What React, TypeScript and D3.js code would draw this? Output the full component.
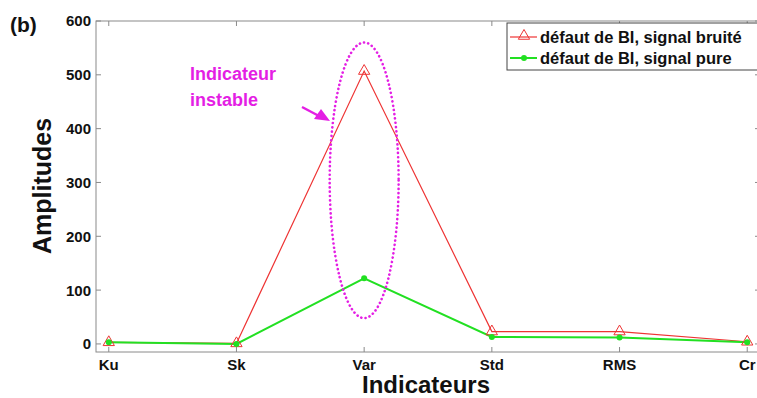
import React from "react";
import * as d3 from "d3";

const categories = ["Ku", "Sk", "Var", "Std", "RMS", "Cr"];
const noisySignal = [3, 1, 507, 23, 23, 4];
const pureSignal = [3, 0, 122, 13, 12, 3];
const yTicks = [0, 100, 200, 300, 400, 500, 600];
const legendLabels = ["défaut de BI, signal bruité", "défaut de BI, signal pure"];
// dotted ellipse around the Var indicator (centre value and half height in data units)
const ellipseCenter = { index: 2, value: 304 };
const ellipseHalf = { dx: 0.27, dy: 256 };

const W = 757;
const H = 398;
const left = 96;
const right = 760;
const top = 21;
const bottom = 352;

const FONT = "'Liberation Sans', Arial, sans-serif";
const NARROW = "'Liberation Sans Narrow', 'Liberation Sans', Arial, sans-serif";
const MAGENTA = "#e41ee4";
const RED = "#ee3333";
const GREEN = "#22e022";

export default function App() {
  const x = d3.scaleLinear().domain([-0.1, 5.1]).range([left, right]);
  const y = d3.scaleLinear().domain([-15, 600]).range([bottom, top]);

  const line = d3
    .line<number>()
    .x((_, i) => x(i))
    .y((d) => y(d));

  const tri = d3.symbol().type(d3.symbolTriangle).size(55)();

  const ex = x(ellipseCenter.index);
  const ey = y(ellipseCenter.value);
  const erx = x(ellipseCenter.index + ellipseHalf.dx) - ex;
  const ery = y(ellipseCenter.value - ellipseHalf.dy) - ey;

  const axisColor = "#8a8a8a";
  const tickLen = 5;

  return (
    <svg
      width={W}
      height={H}
      style={{ position: "absolute", left: 0, top: 0, background: "#fff" }}
    >
      <rect x={0} y={0} width={W} height={H} fill="#fff" />
      {/* frame */}
      <rect
        x={left}
        y={top}
        width={right - left}
        height={bottom - top}
        fill="none"
        stroke={axisColor}
        strokeWidth={1}
      />
      {/* y ticks */}
      {yTicks.map((t) => (
        <g key={"y" + t}>
          <line x1={left} x2={left + tickLen} y1={y(t)} y2={y(t)} stroke={axisColor} />
          <line x1={right} x2={right - tickLen} y1={y(t)} y2={y(t)} stroke={axisColor} />
          <text
            x={left - 5}
            y={y(t)}
            dy="0.36em"
            textAnchor="end"
            fontFamily={FONT}
            fontWeight="bold"
            fontSize={15}
            fill="#111"
          >
            {t}
          </text>
        </g>
      ))}
      {/* x ticks */}
      {categories.map((c, i) => (
        <g key={c}>
          <line x1={x(i)} x2={x(i)} y1={bottom} y2={bottom - tickLen} stroke={axisColor} />
          <line x1={x(i)} x2={x(i)} y1={top} y2={top + tickLen} stroke={axisColor} />
          <text
            x={x(i)}
            y={bottom + 18}
            textAnchor="middle"
            fontFamily={FONT}
            fontWeight="bold"
            fontSize={15}
            fill="#111"
          >
            {c}
          </text>
        </g>
      ))}

      {/* axis titles */}
      <text
        x={426}
        y={393}
        textAnchor="middle"
        fontFamily={NARROW}
        fontWeight="bold"
        fontSize={24}
        fill="#111"
      >
        Indicateurs
      </text>
      <text
        transform={`translate(51,186) rotate(-90)`}
        textAnchor="middle"
        fontFamily={NARROW}
        fontWeight="bold"
        fontSize={25}
        fill="#111"
      >
        Amplitudes
      </text>
      <text x={10} y={32} fontFamily={FONT} fontWeight="bold" fontSize={21} fill="#111">
        (b)
      </text>

      {/* series */}
      <path d={line(noisySignal) || ""} fill="none" stroke={RED} strokeWidth={1.2} />
      <path d={line(pureSignal) || ""} fill="none" stroke={GREEN} strokeWidth={2} />
      {noisySignal.map((v, i) => (
        <path
          key={"r" + i}
          d={tri || ""}
          transform={`translate(${x(i)},${y(v)})`}
          fill="none"
          stroke={RED}
          strokeWidth={1}
        />
      ))}
      {pureSignal.map((v, i) => (
        <circle key={"g" + i} cx={x(i)} cy={y(v)} r={3} fill={GREEN} />
      ))}

      {/* annotation */}
      <ellipse
        cx={ex}
        cy={ey}
        rx={erx}
        ry={ery}
        fill="none"
        stroke={MAGENTA}
        strokeWidth={2.6}
        strokeDasharray="0.1 4.2"
        strokeLinecap="round"
      />
      <text fontFamily={FONT} fontWeight="bold" fontSize={18} fill={MAGENTA}>
        <tspan x={190} y={80}>Indicateur</tspan>
        <tspan x={190} y={106}>instable</tspan>
      </text>
      <line x1={302} y1={107} x2={319} y2={116} stroke={MAGENTA} strokeWidth={2.5} />
      <path d="M330,121 L314,119 L321,109 Z" fill={MAGENTA} />

      {/* legend */}
      <rect x={507} y={23} width={253} height={47} fill="#fff" stroke="#444" strokeWidth={1} />
      <line x1={510} x2={537} y1={37} y2={37} stroke={RED} strokeWidth={1.2} />
      <path d={tri || ""} transform="translate(524,36)" fill="none" stroke={RED} />
      <line x1={510} x2={537} y1={58} y2={58} stroke={GREEN} strokeWidth={2} />
      <circle cx={524} cy={58} r={3} fill={GREEN} />
      {legendLabels.map((l, i) => (
        <text
          key={l}
          x={540}
          y={43 + i * 21}
          fontFamily={FONT}
          fontWeight="bold"
          fontSize={16.5}
          fill="#111"
        >
          {l}
        </text>
      ))}
    </svg>
  );
}
